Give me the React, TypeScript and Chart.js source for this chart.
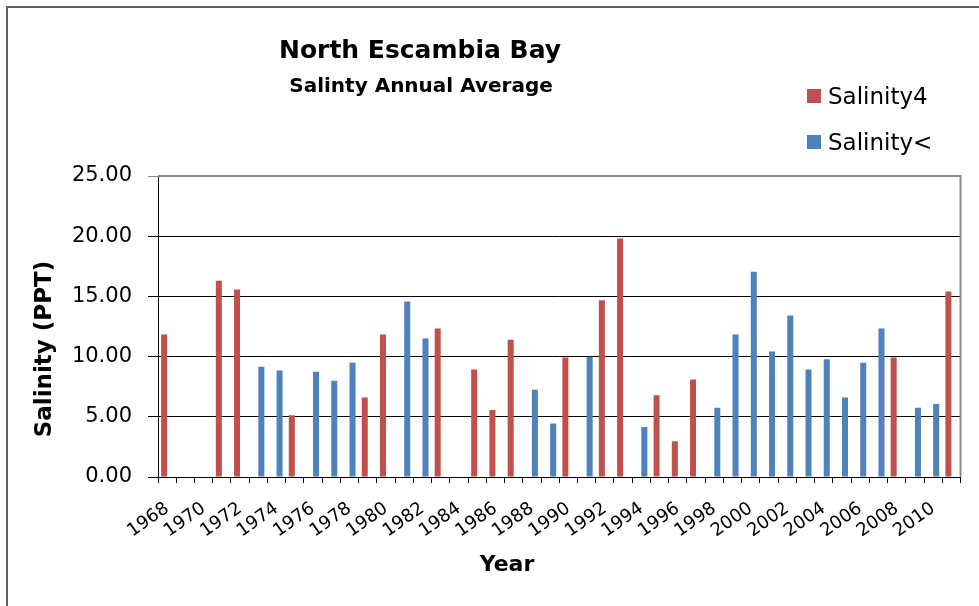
import React, { useEffect, useRef } from 'react';
import { Chart, registerables } from 'chart.js';

Chart.register(...registerables);

const years: string[] = [
  '1968', '1969', '1970', '1971', '1972', '1973', '1974', '1975', '1976', '1977',
  '1978', '1979', '1980', '1981', '1982', '1983', '1984', '1985', '1986', '1987',
  '1988', '1989', '1990', '1991', '1992', '1993', '1994', '1995', '1996', '1997',
  '1998', '1999', '2000', '2001', '2002', '2003', '2004', '2005', '2006', '2007',
  '2008', '2009', '2010', '2011',
];

// Salinity4 (red)
const salinity4: (number | null)[] = [
  11.84, null, null, 16.29, 15.57, null, null, 5.12, null, null,
  null, 6.61, 11.84, null, null, 12.33, null, 8.93, 5.56, 11.39,
  null, null, 9.93, null, 14.68, 19.8, null, 6.8, 2.96, 8.1,
  null, null, null, null, null, null, null, null, null, null,
  9.93, null, null, 15.4,
];

// Salinity< (blue)
const salinityLt: (number | null)[] = [
  null, null, null, null, null, 9.15, 8.85, null, 8.74, 7.99,
  9.49, null, null, 14.57, 11.5, null, null, null, null, null,
  7.25, 4.45, null, 9.98, null, null, 4.15, null, null, null,
  5.75, 11.84, 17.04, 10.43, 13.41, 8.93, 9.79, 6.61, 9.49, 12.33,
  null, 5.75, 6.06, null,
];

const seriesNames = ['Salinity4', 'Salinity<'];
const seriesColors = ['#C0504D', '#4F81BD'];
const yTicks = [0, 5, 10, 15, 20, 25];

const titleText = 'North Escambia Bay';
const subtitleText = 'Salinty Annual Average';
const yTitle = 'Salinity (PPT)';
const xTitle = 'Year';

const FONT = '"DejaVu Sans", "Liberation Sans", Arial, sans-serif';

const decorations = {
  id: 'decorations',
  beforeDraw(chart: any) {
    const { ctx, width, height } = chart;
    ctx.save();
    ctx.fillStyle = '#ffffff';
    ctx.fillRect(0, 0, width, height);
    ctx.restore();
  },
  afterDraw(chart: any) {
    const { ctx, chartArea: a, width, height } = chart;
    ctx.save();
    // outer frame (left and top visible)
    ctx.strokeStyle = '#5e5e5e';
    ctx.lineWidth = 2;
    ctx.beginPath();
    ctx.moveTo(7, height);
    ctx.lineTo(7, 7);
    ctx.lineTo(width, 7);
    ctx.stroke();

    // plot area border (top/right)
    ctx.strokeStyle = '#8c8c8c';
    ctx.lineWidth = 2;
    ctx.beginPath();
    ctx.moveTo(a.left, a.top);
    ctx.lineTo(a.right, a.top);
    ctx.lineTo(a.right, a.bottom);
    ctx.stroke();

    // titles
    ctx.fillStyle = '#000000';
    ctx.textAlign = 'center';
    ctx.textBaseline = 'alphabetic';
    ctx.font = `bold 25px ${FONT}`;
    ctx.fillText(titleText, 420, 58);
    ctx.font = `bold 20px ${FONT}`;
    ctx.fillText(subtitleText, 421, 92);

    // legend
    ctx.textAlign = 'left';
    ctx.font = `23px ${FONT}`;
    chart.data.datasets.forEach((ds: any, i: number) => {
      const top = 89 + i * 46;
      ctx.fillStyle = ds.backgroundColor;
      ctx.fillRect(807, top, 14, 14);
      ctx.fillStyle = '#000000';
      ctx.fillText(ds.label, 828, top + 15);
    });

    // axis titles
    ctx.font = `bold 23px ${FONT}`;
    ctx.save();
    ctx.translate(51, 349);
    ctx.rotate(-Math.PI / 2);
    ctx.textAlign = 'center';
    ctx.fillText(yTitle, 0, 0);
    ctx.restore();

    ctx.font = `bold 22px ${FONT}`;
    ctx.textAlign = 'center';
    ctx.fillText(xTitle, 507, 571);
    ctx.restore();
  },
};

export default function App() {
  const canvasRef = useRef<HTMLCanvasElement | null>(null);

  useEffect(() => {
    const canvas = canvasRef.current;
    if (!canvas) return;
    const chart = new Chart(canvas, {
      type: 'bar',
      data: {
        labels: years,
        datasets: [
          {
            label: seriesNames[0],
            data: salinity4,
            backgroundColor: seriesColors[0],
            borderWidth: 0,
            categoryPercentage: 0.66,
            barPercentage: 1.0,
          },
          {
            label: seriesNames[1],
            data: salinityLt,
            backgroundColor: seriesColors[1],
            borderWidth: 0,
            categoryPercentage: 0.66,
            barPercentage: 1.0,
          },
        ],
      },
      options: {
        responsive: false,
        animation: false,
        devicePixelRatio: 1,
        layout: { padding: { left: 58, right: 17, top: 176, bottom: 59 } },
        plugins: {
          legend: { display: false },
          title: { display: false },
          tooltip: { enabled: false },
        },
        scales: {
          x: {
            grid: {
              display: true,
              drawOnChartArea: false,
              drawTicks: true,
              tickLength: 6,
              color: '#000000',
              offset: true,
            },
            border: { display: true, color: '#000000', width: 1 },
            ticks: {
              autoSkip: false,
              minRotation: 35,
              maxRotation: 35,
              padding: 15,
              color: '#000000',
              font: { family: FONT, size: 18 },
              callback: (_v: any, i: number) => (i % 2 === 0 ? years[i] : ''),
            },
            afterFit: (scale: any) => {
              scale.height = 70;
            },
          },
          y: {
            min: yTicks[0],
            max: yTicks[yTicks.length - 1],
            afterBuildTicks: (scale: any) => {
              scale.ticks = yTicks.map((v) => ({ value: v }));
            },
            grid: {
              color: (c: any) => (c.tick && c.tick.value === 25 ? '#8c8c8c' : '#000000'),
              lineWidth: 1,
              drawTicks: true,
              tickLength: 10,
            },
            border: { display: true, color: '#000000', width: 1 },
            ticks: {
              padding: 16,
              color: '#000000',
              font: { family: FONT, size: 21 },
              callback: (v: any) => Number(v).toFixed(2),
            },
            afterFit: (scale: any) => {
              scale.width = 100;
            },
          },
        },
      },
      plugins: [decorations],
    });
    return () => chart.destroy();
  }, []);

  return (
    <div style={{ position: 'fixed', left: 0, top: 0, width: 979, height: 606, background: '#fff' }}>
      <canvas ref={canvasRef} width={979} height={606} style={{ display: 'block' }} />
    </div>
  );
}
